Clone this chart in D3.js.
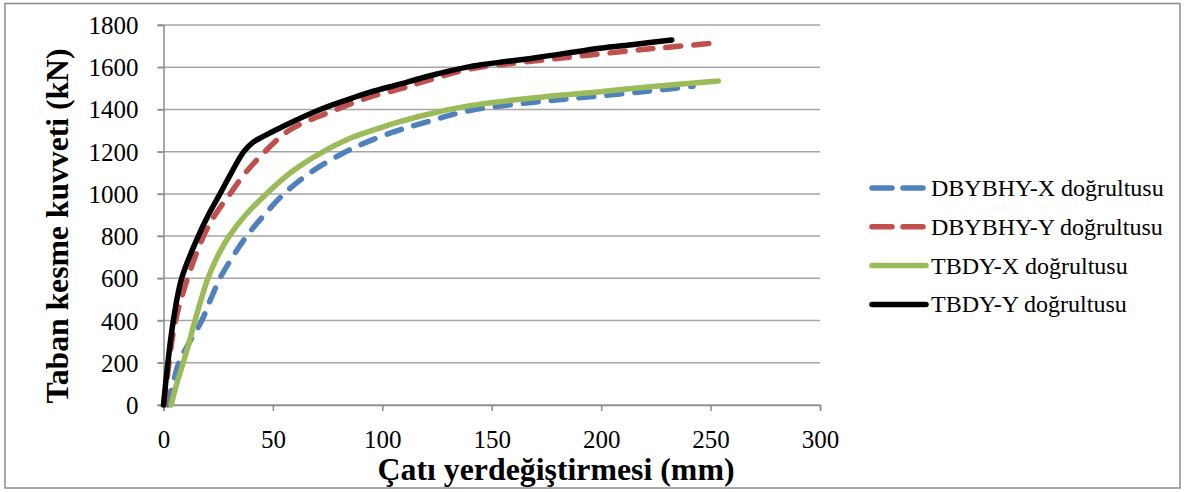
<!DOCTYPE html>
<html><head><meta charset="utf-8">
<script src="https://cdn.jsdelivr.net/npm/d3@7/dist/d3.min.js"></script>
<style>body{margin:0;background:#fff}svg{display:block}</style>
</head><body>
<svg id="c" width="1184" height="492"></svg>
<script>
const xTicks = [0, 50, 100, 150, 200, 250, 300];
const yTicks = [0, 200, 400, 600, 800, 1000, 1200, 1400, 1600, 1800];
const seriesNames = ["DBYBHY-X doğrultusu", "DBYBHY-Y doğrultusu", "TBDY-X doğrultusu", "TBDY-Y doğrultusu"];
const dbybhyX = [[2,0],[4.4,100],[7,200],[12,300],[17.5,400],[21.5,500],[25.8,600],[31.5,700],[38,800],[46,900],[55,1000],[67,1100],[82.4,1195],[95.9,1258],[108,1303],[120,1340],[140,1395],[170,1435],[195,1460],[220,1485],[242,1510]];
const dbybhyY = [[0.5,0],[2.5,200],[5.5,400],[11,600],[18.3,800],[23.5,900],[30.4,1000],[37.5,1100],[46.3,1200],[58,1305],[79,1400],[94.5,1460],[108,1497],[120,1535],[140,1592],[170,1630],[195,1658],[220,1685],[233,1697],[250,1713]];
const tbdyX = [[3.5,0],[6,100],[9,200],[11.8,300],[14.4,400],[17.2,500],[20.3,600],[24.5,700],[30,800],[37.5,900],[47,1000],[58,1100],[71.6,1192],[85,1262],[99,1313],[108,1342],[120,1375],[140,1418],[170,1456],[199.5,1484],[225,1510],[253.6,1535]];
const tbdyY = [[0,0],[2,200],[4.5,400],[8.3,600],[15.9,800],[20.5,900],[25.8,1000],[31,1100],[36.7,1200],[41,1245],[45.4,1271],[55,1322],[71.6,1400],[86.5,1455],[94.5,1482],[108,1520],[120,1555],[140,1603],[170,1645],[199.5,1690],[215,1708],[232.3,1729]];

const series = [
  {name: seriesNames[0], data: dbybhyX, color: "#4F81BD", dash: "15,13"},
  {name: seriesNames[1], data: dbybhyY, color: "#C0504D", dash: "15,13"},
  {name: seriesNames[2], data: tbdyX, color: "#9BBB59", dash: null},
  {name: seriesNames[3], data: tbdyY, color: "#000000", dash: null}
];

const svg = d3.select("#c");
const FONT = "Liberation Serif";
const L = 163.5, R = 820, T = 25, B = 405;
const x = d3.scaleLinear().domain([0, 300]).range([L, R]);
const y = d3.scaleLinear().domain([0, 1800]).range([B, T]);

svg.append("rect").attr("x", 5).attr("y", 3.5).attr("width", 1175).attr("height", 484.5)
  .attr("fill", "none").attr("stroke", "#8c8c8c").attr("stroke-width", 1.5);

svg.append("g").selectAll("line").data(yTicks).join("line")
  .attr("x1", L - 6).attr("x2", R).attr("y1", d => y(d)).attr("y2", d => y(d))
  .attr("stroke", "#a6a6a6").attr("stroke-width", 1.5);

const yAxis = svg.append("g").attr("transform", `translate(${L},0)`)
  .call(d3.axisLeft(y).tickValues(yTicks).tickSize(6).tickPadding(19).tickFormat(d3.format("d")));
yAxis.select(".domain").attr("stroke", "#8c8c8c").attr("stroke-width", 1.5);
yAxis.selectAll(".tick line").attr("stroke", "#8c8c8c").attr("stroke-width", 1.5);
yAxis.selectAll(".tick text").style("font-family", FONT).style("font-size", "25px").attr("fill", "#000").attr("dy", "0.34em");

const xAxis = svg.append("g").attr("transform", `translate(0,${B})`)
  .call(d3.axisBottom(x).tickValues(xTicks).tickSize(6).tickPadding(0).tickFormat(d3.format("d")));
xAxis.select(".domain").attr("stroke", "#8c8c8c").attr("stroke-width", 1.5);
xAxis.selectAll(".tick line").attr("stroke", "#8c8c8c").attr("stroke-width", 1.5);
xAxis.selectAll(".tick text").style("font-family", FONT).style("font-size", "25px").attr("fill", "#000")
  .attr("dy", null).attr("y", 43);

const line = d3.line().x(d => x(d[0])).y(d => y(d[1])).curve(d3.curveCatmullRom.alpha(0.5));
svg.append("g").selectAll("path").data(series).join("path")
  .attr("d", d => line(d.data)).attr("fill", "none")
  .attr("stroke", d => d.color).attr("stroke-width", 5.5)
  .attr("stroke-linecap", "round").attr("stroke-linejoin", "round")
  .attr("stroke-dasharray", d => d.dash);

svg.append("text").attr("x", 556).attr("y", 480).attr("text-anchor", "middle")
  .style("font-family", FONT).style("font-weight", "bold").style("font-size", "31px")
  .attr("textLength", 357).attr("lengthAdjust", "spacingAndGlyphs")
  .text("Çatı yerdeğiştirmesi  (mm)");
svg.append("text").attr("transform", "translate(68,226) rotate(-90)").attr("text-anchor", "middle")
  .style("font-family", FONT).style("font-weight", "bold").style("font-size", "31px")
  .attr("textLength", 355).attr("lengthAdjust", "spacingAndGlyphs")
  .text("Taban  kesme kuvveti (kN)");

const lg = svg.append("g").selectAll("g").data(series).join("g")
  .attr("transform", (d, i) => `translate(870,${188 + i * 38.8})`);
lg.append("line").attr("x1", 2).attr("x2", 56).attr("y1", 0).attr("y2", 0)
  .attr("stroke", d => d.color).attr("stroke-width", 5.5).attr("stroke-linecap", "round")
  .attr("stroke-dasharray", d => d.dash ? "20,11" : null);
lg.append("text").attr("x", 61).attr("y", 8)
  .style("font-family", FONT).style("font-size", "24px")
  .attr("fill", "#000").text(d => d.name);
</script>
</body></html>
